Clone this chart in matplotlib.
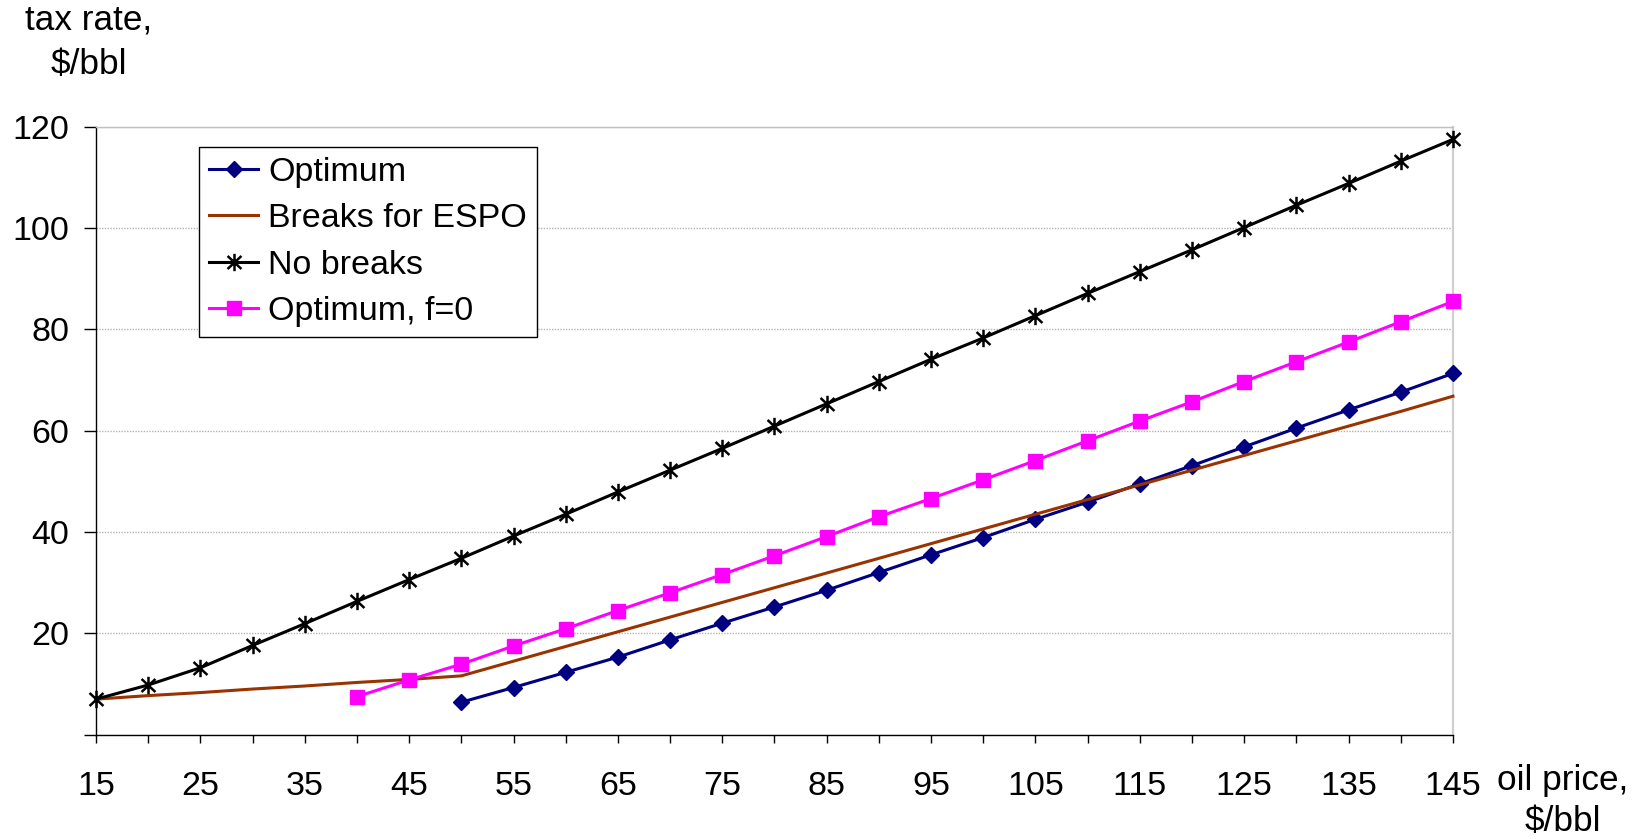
import matplotlib

matplotlib.use("Agg")
import matplotlib.pyplot as plt
import numpy as np
from matplotlib.path import Path

nan = np.nan

# oil price categories, $/bbl
prices = [15, 20, 25, 30, 35, 40, 45, 50, 55, 60, 65, 70, 75, 80,
          85, 90, 95, 100, 105, 110, 115, 120, 125, 130, 135, 140, 145]

# tax rate, $/bbl
optimum = [nan, nan, nan, nan, nan, nan, nan,
           6.4, 9.3, 12.3, 15.3, 18.7, 22.0, 25.2, 28.5, 32.0, 35.5, 38.9,
           42.5, 45.9, 49.5, 53.1, 56.8, 60.5, 64.1, 67.6, 71.3]
breaks_espo = [7.0, 7.7, 8.3, 9.0, 9.6, 10.3, 10.9, 11.6, 14.5, 17.4, 20.3,
               23.2, 26.1, 29.0, 31.9, 34.8, 37.7, 40.6, 43.5, 46.4, 49.3,
               52.2, 55.1, 58.0, 60.9, 63.8, 66.8]
no_breaks = [7.0, 9.8, 13.2, 17.6, 21.9, 26.3, 30.6, 34.8, 39.2, 43.5, 47.9,
             52.2, 56.5, 60.9, 65.3, 69.7, 74.1, 78.3, 82.7, 87.1, 91.4,
             95.7, 100.1, 104.5, 108.8, 113.2, 117.5]
optimum_f0 = [nan, nan, nan, nan, nan,
              7.5, 10.8, 13.9, 17.5, 20.9, 24.5, 28.0, 31.6, 35.3, 39.1,
              43.0, 46.6, 50.3, 54.1, 58.0, 61.9, 65.7, 69.7, 73.6, 77.5,
              81.5, 85.5]

series_labels = ["Optimum", "Breaks for ESPO", "No breaks", "Optimum, f=0"]
y_ticks = [0, 20, 40, 60, 80, 100, 120]

plt.rcParams["font.family"] = ["Liberation Sans", "DejaVu Sans"]
plt.rcParams["font.size"] = 24.5

# Excel style asterisk: vertical bar plus an X
star = Path(
    [(0, -1), (0, 1), (-0.8, -0.75), (0.8, 0.75), (-0.8, 0.75), (0.8, -0.75)],
    [Path.MOVETO, Path.LINETO] * 3,
)

fig = plt.figure(figsize=(16.44, 8.39), dpi=100)
ax = fig.add_axes([0.0584, 0.1244, 0.8254, 0.7246])

ax.plot(prices, optimum, color="#000080", lw=2.2, marker="D", ms=8.5,
        label=series_labels[0], clip_on=False, zorder=3)
ax.plot(prices, breaks_espo, color="#993300", lw=2.2,
        label=series_labels[1], clip_on=False, zorder=3)
ax.plot(prices, no_breaks, color="black", lw=2.2, marker=star, ms=12.5,
        mew=1.8, mfc="none", mec="black",
        label=series_labels[2], clip_on=False, zorder=3)
ax.plot(prices, optimum_f0, color="#FF00FF", lw=2.2, marker="s", ms=10.5,
        label=series_labels[3], clip_on=False, zorder=4)

ax.set_xlim(prices[0], prices[-1])
ax.set_ylim(0, 120)

ax.set_xticks(prices[::2])
ax.set_xticks(prices[1::2], minor=True)
ax.set_yticks(y_ticks)
ax.set_yticklabels([""] + [str(v) for v in y_ticks[1:]])
ax.tick_params(axis="x", which="both", direction="out", length=5.5,
               width=1, pad=21)
ax.tick_params(axis="y", direction="out", length=8.4, width=1, pad=11)

ax.grid(axis="y", color="#b4b4b4", linestyle=(0, (1, 1)), linewidth=1)
ax.set_axisbelow(True)
for side in ["left", "bottom"]:
    ax.spines[side].set_color("black")
    ax.spines[side].set_linewidth(1)
ax.spines["top"].set_color("#c0c0c0")
ax.spines["top"].set_linewidth(1)
ax.spines["right"].set_color("#d0d0d0")
ax.spines["right"].set_linewidth(1.6)

leg = ax.legend(loc="upper left", bbox_to_anchor=(0.0759, 0.967),
                borderaxespad=0, fancybox=False, frameon=True,
                edgecolor="black", framealpha=1,
                handlelength=1.44, handletextpad=0.3, borderpad=0.3,
                labelspacing=0.45, numpoints=1)
leg.get_frame().set_linewidth(1)

# multi-line labels are placed by the baseline of their last line
fig.text(88.5 / 1644, 1 - 74 / 839, "tax rate,\n$/bbl", ha="center",
         va="baseline", multialignment="center", linespacing=1.43,
         fontsize=25.3)
fig.text(1563 / 1644, 1 - 831 / 839, "oil price,\n$/bbl", ha="center",
         va="baseline", multialignment="center", linespacing=1.3,
         fontsize=25.3)

fig.savefig("out.png", dpi=100)
